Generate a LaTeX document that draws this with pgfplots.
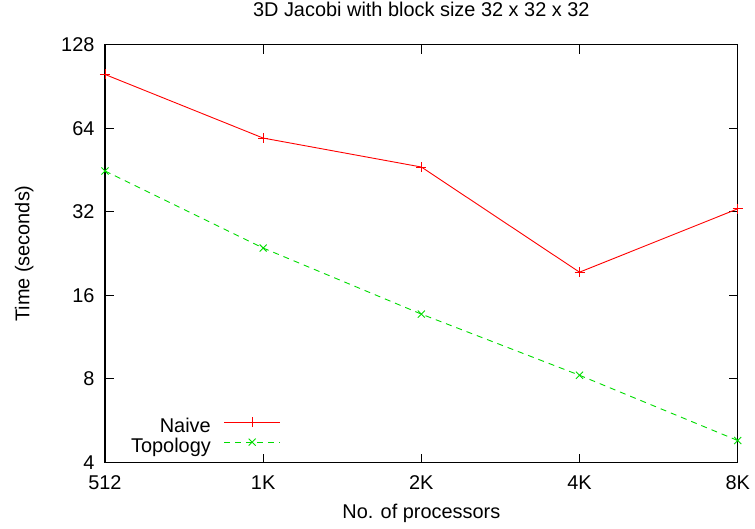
\documentclass[border=0pt]{standalone}
\usepackage{pgfplots}
\pgfplotsset{compat=1.18}
\usepackage{fontspec}
\setmainfont{Liberation Sans}
\newcommand{\lf}{\fontsize{20}{24}\selectfont}
\definecolor{gred}{RGB}{255,0,0}
\definecolor{ggreen}{RGB}{0,220,0}
\begin{document}
\begin{tikzpicture}
\begin{axis}[
  scale only axis,
  width=633bp, height=418bp,
  xmin=0, xmax=4,
  ymode=log, log basis y=2,
  ymin=4, ymax=128,
  xtick={0,1,2,3,4},
  xticklabels={512,1K,2K,4K,8K},
  ytick={4,8,16,32,64,128},
  yticklabels={4,8,16,32,64,128},
  minor tick num=0,
  tick align=inside,
  major tick length=9bp,
  axis line style={line width=1.2bp},
  every tick/.style={black, line width=1bp},
  /pgf/number format/assume math mode=true,
  tick label style={font=\lf},
  xticklabel style={anchor=base, yshift=-27bp},
  yticklabel style={anchor=east, xshift=-7bp},
  title={3D Jacobi with block size 32 x 32 x 32},
  title style={font=\lf, at={(0.5,1)}, anchor=base, yshift=22bp},
  xlabel={No. of processors},
  xlabel style={font=\lf, at={(0.5,0)}, anchor=base, yshift=-56.5bp},
  ylabel={Time (seconds)},
  ylabel style={font=\lf, at={(axis description cs:-0.1193,0.5)}, anchor=base},
  legend plot pos=right,
  legend cell align=right,
  legend style={draw=none, fill=none, font=\lf, at={(0.278,0.0148)}, anchor=south east,
    row sep=2bp, inner sep=0pt,
    nodes={inner sep=0pt, text height=14bp, text depth=4bp},
    /tikz/every odd column/.append style={column sep=13bp}},
  legend image code/.code={\draw[mark repeat=2, mark phase=2, #1] plot coordinates {(0bp,5bp) (28bp,5bp) (56bp,5bp)};},
]
\addplot[gred, line width=0.9bp, mark=+, mark size=5bp, mark options={solid, line width=0.9bp}]
  coordinates {(0,100) (1,59) (2,46.4) (3,19.4) (4,32.8)};
\addlegendentry{Naive}
\addplot[ggreen, line width=0.9bp, dash pattern=on 6bp off 5bp, mark=x, mark size=5bp, mark options={solid, line width=0.9bp}]
  coordinates {(0,44.9) (1,23.7) (2,13.7) (3,8.25) (4,4.8)};
\addlegendentry{Topology}
\end{axis}
\pgfresetboundingbox
\path ([shift={(-105bp,-66.3bp)}]current axis.south west) rectangle ([shift={(17.3bp,44.7bp)}]current axis.north east);
\end{tikzpicture}
\end{document}
